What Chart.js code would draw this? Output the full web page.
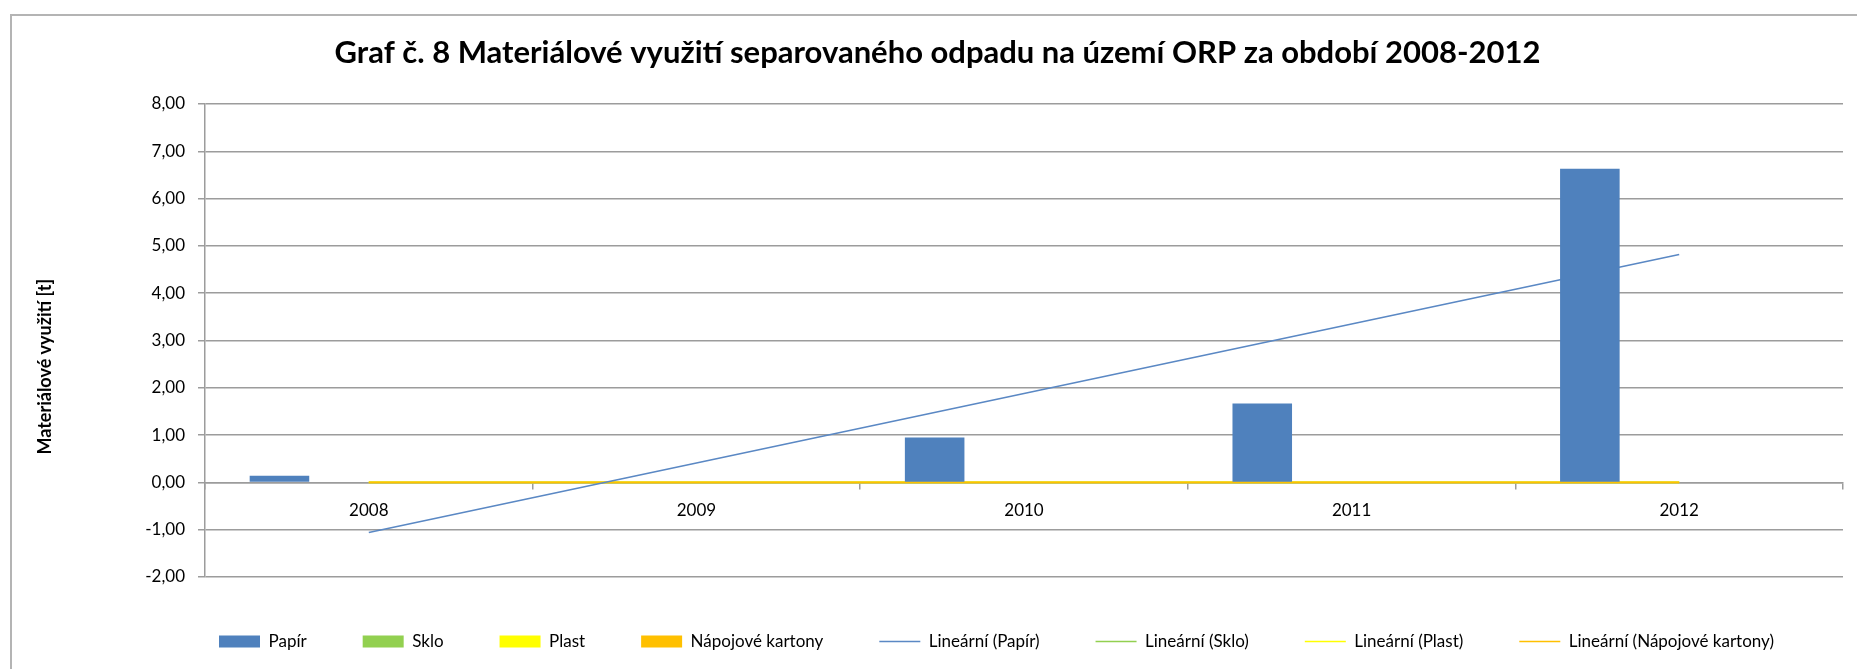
<!DOCTYPE html>
<html lang="cs">
<head>
<meta charset="utf-8">
<title>Graf č. 8 Materiálové využití separovaného odpadu</title>
<script src="https://cdn.jsdelivr.net/npm/chart.js@4/dist/chart.umd.min.js"></script>
<style>
  html, body { margin: 0; padding: 0; background: #ffffff; }
  #wrap { position: relative; width: 1857px; height: 669px; overflow: hidden; }
  #chart { position: absolute; left: 0; top: 0; }
  #frame {
    position: absolute; left: 10px; top: 14px; right: -4px; bottom: -4px;
    border-left: 2px solid #b4b4b4; border-top: 2px solid #b4b4b4;
    pointer-events: none;
  }
</style>
</head>
<body>
<div id="wrap">
  <canvas id="chart" width="1857" height="669"></canvas>
  <div id="frame"></div>
</div>
<script>
// Years on the category axis
const categories = ['2008', '2009', '2010', '2011', '2012'];

// Material recovery of separated waste [t]
const papir = [0.14, 0, 0.95, 1.67, 6.63];
const sklo = [0, 0, 0, 0, 0];
const plast = [0, 0, 0, 0, 0];
const napojoveKartony = [0, 0, 0, 0, 0];

// Linear trend lines, given by their values at the first and last year
const trendPapir = [-1.06, null, null, null, 4.82];
const trendSklo = [0, null, null, null, 0];
const trendPlast = [0, null, null, null, 0];
const trendKartony = [0, null, null, null, 0];

// Value axis labels
const yTickLabels = ['-2,00', '-1,00', '0,00', '1,00', '2,00', '3,00', '4,00', '5,00', '6,00', '7,00', '8,00'];

const FONT = 'Lato, "Open Sans", "Liberation Sans", sans-serif';
const GRID = '#9c9c9c';

function barSet(label, data, color) {
  return {
    type: 'bar', label, data,
    backgroundColor: color, borderWidth: 0,
    pointStyle: 'rect', order: 0
  };
}
function trendSet(label, data, color, order) {
  return {
    type: 'line', label, data,
    borderColor: color, backgroundColor: color,
    borderWidth: 1.6, pointRadius: 0, pointHoverRadius: 0,
    pointBorderWidth: 1.6, pointStyle: 'line',
    spanGaps: true, tension: 0, fill: false, order
  };
}

// Nudge the legend row (starts under the plot) and the chart title
const blockShift = {
  id: 'blockShift',
  afterLayout(chart) {
    const legendDx = 153;
    chart.legend.left += legendDx;
    chart.legend.right += legendDx;
    const titleDx = 11;
    chart.titleBlock.left += titleDx;
    chart.titleBlock.right += titleDx;
  }
};

// Trailing spaces keep the axis caption slightly below the plot centre
const yAxisCaption = 'Materiálové využití [t]' + ' '.repeat(12);

new Chart(document.getElementById('chart'), {
  data: {
    labels: categories,
    datasets: [
      barSet('Papír', papir, '#4F81BD'),
      barSet('Sklo', sklo, '#92D050'),
      barSet('Plast', plast, '#FFFF00'),
      barSet('Nápojové kartony', napojoveKartony, '#FFC000'),
      trendSet('Lineární (Papír)', trendPapir, '#5A88C4', 1),
      trendSet('Lineární (Sklo)', trendSklo, '#92D050', 4),
      trendSet('Lineární (Plast)', trendPlast, '#FFFF00', 3),
      trendSet('Lineární (Nápojové kartony)', trendKartony, '#FFC000', 2)
    ]
  },
  options: {
    responsive: false,
    animation: false,
    devicePixelRatio: 1,
    layout: { padding: { left: 10, right: 14, top: 14, bottom: 9 } },
    datasets: {
      bar: { categoryPercentage: 4 / 5.5, barPercentage: 1 }
    },
    plugins: {
      tooltip: { enabled: false },
      title: {
        display: true,
        text: 'Graf č. 8 Materiálové využití separovaného odpadu na území ORP za období 2008-2012',
        color: '#000000',
        font: { family: FONT, size: 31, weight: 'bold', lineHeight: 1.2 },
        padding: { top: 20.4, bottom: 32.4 }
      },
      legend: {
        position: 'bottom',
        align: 'start',
        labels: {
          color: '#000000',
          font: { family: FONT, size: 17 },
          usePointStyle: true,
          pointStyleWidth: 41,
          boxHeight: 12,
          padding: 56,
          sort: (a, b) => a.datasetIndex - b.datasetIndex
        }
      }
    },
    scales: {
      x: {
        type: 'category',
        position: { y: 0 },
        offset: true,
        grid: {
          offset: true, drawOnChartArea: false, drawTicks: true,
          tickLength: 6, color: GRID, lineWidth: 1.5
        },
        border: { display: true, color: GRID, width: 1.5 },
        ticks: {
          color: '#000000', font: { family: FONT, size: 17 },
          padding: 12, autoSkip: false, maxRotation: 0
        }
      },
      y: {
        type: 'linear',
        position: 'left',
        min: -2, max: 8,
        afterFit(scale) { scale.width = 195; },
        grid: { color: GRID, lineWidth: 1.5, drawTicks: true, tickLength: 7 },
        border: { display: true, color: GRID, width: 1.5 },
        ticks: {
          stepSize: 1,
          color: '#000000', font: { family: FONT, size: 17 },
          padding: 13,
          callback: (v, i) => yTickLabels[i]
        },
        title: {
          display: true,
          text: yAxisCaption,
          color: '#000000',
          font: { family: FONT, size: 18, weight: 'bold', lineHeight: 1.2 },
          padding: { top: 24, bottom: 0 }
        }
      }
    }
  },
  plugins: [blockShift]
});
</script>
</body>
</html>
